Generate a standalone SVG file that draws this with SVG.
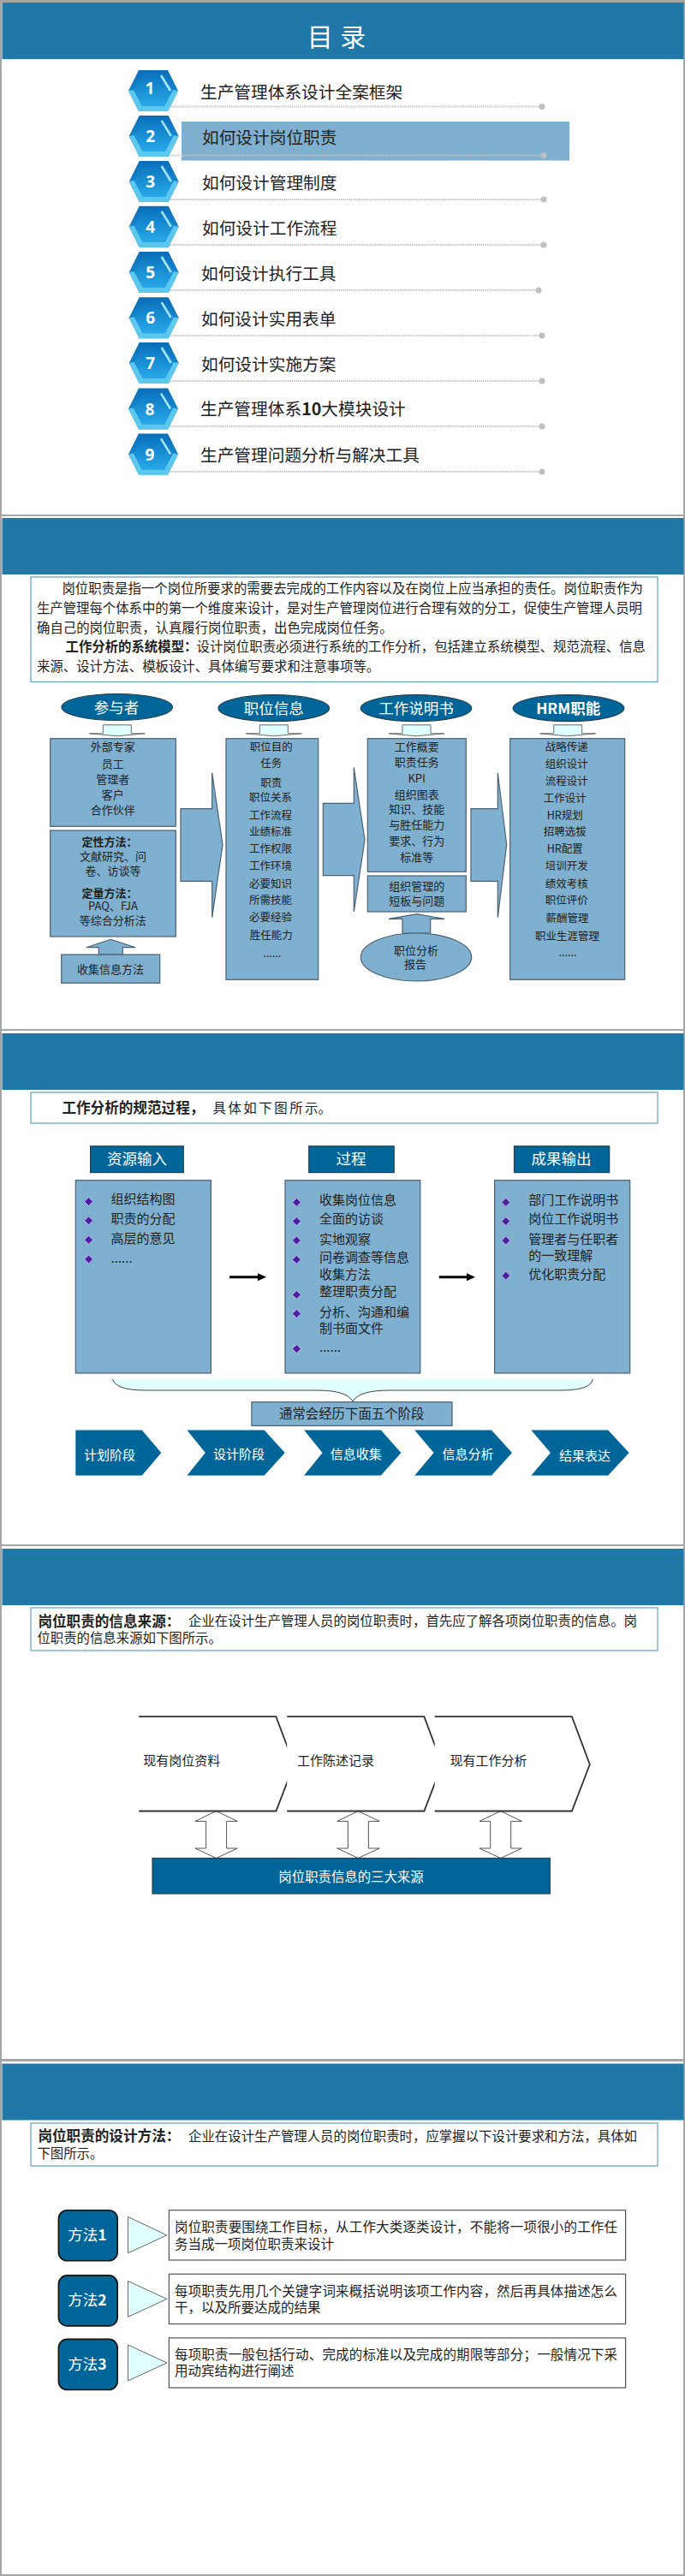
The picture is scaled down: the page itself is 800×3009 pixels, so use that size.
<svg xmlns="http://www.w3.org/2000/svg" width="800" height="3009" viewBox="0 0 800 3009">
<style>
text{font-family:"Noto Sans CJK SC","Noto Sans",sans-serif;fill:#222}
.c{text-anchor:middle}
.w{fill:#fff}
.b{font-weight:700}
.f125{font-size:12.5px}
.f13{font-size:13px}
.f15{font-size:15px}
.f154{font-size:15.4px}
.f155{font-size:15.5px}
.f166{font-size:16.6px}
.f172{font-size:17.5px}
.f197{font-size:19.7px}
.hd{fill:#1f78a8}
.pg{fill:#fff}
.note{fill:#fff;stroke:#5f9fc4;stroke-width:1.2}
.bx{fill:#7fb0cf;stroke:#4b6173;stroke-width:1.2}
.dk{fill:#006699;stroke:#23404f;stroke-width:1.2}
.cy{fill:#e0ffff;stroke:#6a6a6a;stroke-width:1}
.dot{fill:none;stroke:#c4c4c4;stroke-width:2;stroke-dasharray:1.3 1}
.end{fill:#bfbfbf}
.num{font-family:"Noto Sans",sans-serif;font-size:19px;font-weight:700;fill:#fff;text-anchor:middle}
</style>
<defs>
<linearGradient id="hg" x1="0" y1="0" x2="0" y2="1"><stop offset="0" stop-color="#0c6db8"/><stop offset="1" stop-color="#1e9bdf"/></linearGradient>
<linearGradient id="hi" x1="0" y1="0" x2="0" y2="1"><stop offset="0" stop-color="#0b75c0"/><stop offset="1" stop-color="#28a9e8"/></linearGradient>
<g id="hex">
<polygon points="-29,0 -17,-24 17,-24 29,0 17,24 -17,24" fill="url(#hg)"/>
<polygon points="-29,0 -23,-1 -13,18 13,18 23,-1 29,0 17,24 -17,24" fill="#5cc8ee"/>
<polygon points="-23,-1 -13,-19 13,-19 23,-1 13,18 -13,18" fill="url(#hi)"/>
<line x1="9" y1="-18" x2="20" y2="0" stroke="#a8e8f8" stroke-width="2.5"/>
</g>
<polygon id="dia" points="0,-5 5,0 0,5 -5,0" fill="#4b1fa0" stroke="#c3b4e6" stroke-width="1"/>
<polygon id="down" points="-16.5,-13 16.5,-13 16.5,-3 32.5,-3 0,0 -32.5,-3 -16.5,-3" class="cy"/>
<polygon id="dbl" points="0,0 24.7,11.9 12,11.9 12,43.5 24.7,43.5 0,55 -24.7,43.5 -12,43.5 -12,11.9 -24.7,11.9" fill="#fff" stroke="#555" stroke-width="1"/>
<marker id="ah" markerUnits="userSpaceOnUse" markerWidth="11" markerHeight="10" refX="1" refY="4.5" orient="auto"><path d="M0,0L10,4.5L0,9z" fill="#000"/></marker>
</defs>

<rect id="frame" x="0" y="0" width="800" height="3009" fill="#a6a6a6"/>
<g id="slides">
<rect class="pg" x="2" y="3" width="796" height="598"/>
<rect class="pg" x="2" y="603" width="796" height="599"/>
<rect class="pg" x="2" y="1204" width="796" height="600"/>
<rect class="pg" x="2" y="1806" width="796" height="599"/>
<rect class="pg" x="2" y="2408" width="796" height="599"/>
<rect class="hd" x="2.5" y="3" width="796" height="66"/>
<rect class="hd" x="2.5" y="605" width="796" height="66"/>
<rect class="hd" x="2.5" y="1207" width="796" height="66"/>
<rect class="hd" x="2.5" y="1809" width="796" height="66"/>
<rect class="hd" x="2.5" y="2410.5" width="796" height="66"/>
</g>
<text id="title" class="c w" x="393" y="54" font-size="30" word-spacing="2">目 录</text>
<rect id="highlight" x="212" y="142" width="453" height="45.5" fill="#7fb0cf"/>

<g id="connectors">
<line class="dot" x1="196" y1="124.4" x2="633" y2="124.4"/><circle class="end" cx="633" cy="124.4" r="3.5"/>
<line class="dot" x1="196" y1="181.4" x2="635" y2="181.4"/><circle class="end" cx="635" cy="181.4" r="3.5"/>
<line class="dot" x1="196" y1="233" x2="635" y2="233"/><circle class="end" cx="635" cy="233" r="3.5"/>
<line class="dot" x1="196" y1="286" x2="635" y2="286"/><circle class="end" cx="635" cy="286" r="3.5"/>
<line class="dot" x1="196" y1="339" x2="629" y2="339"/><circle class="end" cx="629" cy="339" r="3.5"/>
<line class="dot" x1="196" y1="392" x2="633" y2="392"/><circle class="end" cx="633" cy="392" r="3.5"/>
<line class="dot" x1="196" y1="445" x2="633" y2="445"/><circle class="end" cx="633" cy="445" r="3.5"/>
<line class="dot" x1="196" y1="498" x2="633" y2="498"/><circle class="end" cx="633" cy="498" r="3.5"/>
<line class="dot" x1="196" y1="551" x2="633" y2="551"/><circle class="end" cx="633" cy="551" r="3.5"/>
<use href="#down" x="136.8" y="859.8"/>
<use href="#down" x="319.8" y="859.8"/>
<use href="#down" x="486.5" y="859.8"/>
<use href="#down" x="663.2" y="859.8"/>
<polygon class="bx" points="129.3,1097.3 158.3,1106.7 143.3,1106.7 143.3,1115 115.3,1115 115.3,1106.7 100.7,1106.7"/>
<polygon class="bx" points="486.7,1067.7 519,1073.3 502.7,1073.3 502.7,1090 470,1090 470,1073.3 454,1073.3"/>
<polygon class="bx" points="211,944.7 247.7,944.7 247.7,902.7 260,986.7 247.7,1071.7 247.7,1029.3 211,1029.3"/>
<polygon class="bx" points="377.3,938.3 413.3,938.3 413.3,896.7 426,981 413.3,1065 413.3,1022.7 377.3,1022.7"/>
<polygon class="bx" points="550,944.7 581.3,944.7 581.3,902.7 591.7,986.7 581.3,1071.7 581.3,1029.3 550,1029.3"/>
<line x1="268" y1="1491.8" x2="302" y2="1491.8" stroke="#000" stroke-width="3" marker-end="url(#ah)"/>
<line x1="512.8" y1="1491.8" x2="546" y2="1491.8" stroke="#000" stroke-width="3" marker-end="url(#ah)"/>
<path d="M131.6,1611Q135,1624 170,1624L370,1624Q405,1624 412,1637Q419,1624 455,1624L655,1624Q690,1624 692.3,1611Z" fill="#e0ffff"/>
<path d="M131.6,1611Q135,1624 170,1624L370,1624Q405,1624 412,1637Q419,1624 455,1624L655,1624Q690,1624 692.3,1611" fill="none" stroke="#444" stroke-width="1"/>
<use href="#dbl" x="252.6" y="2115.5"/>
<use href="#dbl" x="418.4" y="2115.5"/>
<use href="#dbl" x="584.7" y="2115.5"/>
<polygon class="cy" points="149.5,2589.5 194.9,2610.9 149.5,2631.8"/>
<polygon class="cy" points="149.5,2664.5 194.9,2685.4 149.5,2706.4"/>
<polygon class="cy" points="149.5,2739 194.9,2760 149.5,2781"/>
</g>

<g id="toc-1"><use href="#hex" x="179" y="106"/><text class="num" x="175" y="110">1</text><text class="f197" x="234" y="115.3">生产管理体系设计全案框架</text></g>
<g id="toc-2"><use href="#hex" x="179.7" y="158.9"/><text class="num" x="175.7" y="166">2</text><text class="f197" x="236" y="168.3">如何设计岗位职责</text></g>
<g id="toc-3"><use href="#hex" x="179.7" y="212"/><text class="num" x="175.7" y="219">3</text><text class="f197" x="236" y="221.3">如何设计管理制度</text></g>
<g id="toc-4"><use href="#hex" x="179.7" y="264.8"/><text class="num" x="175.7" y="272">4</text><text class="f197" x="236" y="274.3">如何设计工作流程</text></g>
<g id="toc-5"><use href="#hex" x="179.7" y="318"/><text class="num" x="175.7" y="325">5</text><text class="f197" x="235" y="327.3">如何设计执行工具</text></g>
<g id="toc-6"><use href="#hex" x="179.7" y="371.2"/><text class="num" x="175.7" y="378">6</text><text class="f197" x="235" y="380.3">如何设计实用表单</text></g>
<g id="toc-7"><use href="#hex" x="179.7" y="424"/><text class="num" x="175.7" y="431">7</text><text class="f197" x="235" y="433.3">如何设计实施方案</text></g>
<g id="toc-8"><use href="#hex" x="179" y="477.6"/><text class="num" x="175" y="484.5">8</text><text class="f197" x="234" y="485.3">生产管理体系<tspan class="b">10</tspan>大模块设计</text></g>
<g id="toc-9"><use href="#hex" x="179" y="530.4"/><text class="num" x="175" y="537.5">9</text><text class="f197" x="234" y="539.3">生产管理问题分析与解决工具</text></g>

<g id="s2-note">
<rect class="note" x="36" y="674" width="732" height="122.5"/>
<text class="f154" x="72.4" y="692.7" textLength="678.6">岗位职责是指一个岗位所要求的需要去完成的工作内容以及在岗位上应当承担的责任。岗位职责作为</text>
<text class="f154" x="43" y="715.7" textLength="707">生产管理每个体系中的第一个维度来设计，是对生产管理岗位进行合理有效的分工，促使生产管理人员明</text>
<text class="f154" x="43" y="739.3">确自己的岗位职责，认真履行岗位职责，出色完成岗位任务。</text>
<text class="f154 b" x="76.5" y="760.7">工作分析的系统模型：</text>
<text class="f154" x="229.5" y="760.7" textLength="524.5">设计岗位职责必须进行系统的工作分析，包括建立系统模型、规范流程、信息</text>
<text class="f154" x="43" y="784.4">来源、设计方法、模板设计、具体编写要求和注意事项等。</text>
</g>
<g id="col-participants">
<ellipse class="dk" cx="136.7" cy="826" rx="64.7" ry="15.5"/>
<text class="c w f172" x="136" y="832.5">参与者</text>
<rect class="bx" x="58.7" y="862.7" width="146.6" height="102.6"/>
<text class="c f13" x="131.7" y="876.5">外部专家</text>
<text class="c f13" x="131.7" y="896.5">员工</text>
<text class="c f13" x="131.7" y="915">管理者</text>
<text class="c f13" x="131.7" y="933">客户</text>
<text class="c f13" x="131.7" y="951">合作伙伴</text>
<rect class="bx" x="58.7" y="970" width="146.6" height="124"/>
<text class="c f13 b" x="128" y="988">定性方法：</text>
<text class="c f13" x="132" y="1005">文献研究、问</text>
<text class="c f13" x="132" y="1021.5">卷、访谈等</text>
<text class="c f13 b" x="128" y="1048">定量方法：</text>
<text class="c f13" x="132" y="1063">PAQ、FJA</text>
<text class="c f13" x="131.7" y="1080">等综合分析法</text>
</g>
<g id="collect-method">
<rect class="bx" x="71.7" y="1115" width="115" height="33.3"/>
<text class="c f13" x="129" y="1136.5">收集信息方法</text>
</g>
<g id="col-position">
<ellipse class="dk" cx="319.8" cy="827.2" rx="64.8" ry="15.5"/>
<text class="c w f172" x="319.7" y="833.7">职位信息</text>
<rect class="bx" x="264" y="862.7" width="107.7" height="281.6"/>
<text class="c f125" x="316.7" y="877">职位目的</text>
<text class="c f125" x="316.7" y="896.3">任务</text>
<text class="c f125" x="316.7" y="918.6">职责</text>
<text class="c f125" x="316" y="936.3">职位关系</text>
<text class="c f125" x="316" y="957">工作流程</text>
<text class="c f125" x="316" y="976.3">业绩标准</text>
<text class="c f125" x="316" y="996.3">工作权限</text>
<text class="c f125" x="316" y="1016.3">工作环境</text>
<text class="c f125" x="316" y="1037">必要知识</text>
<text class="c f125" x="316" y="1056.3">所需技能</text>
<text class="c f125" x="316" y="1076.3">必要经验</text>
<text class="c f125" x="316.7" y="1097">胜任能力</text>
<text class="c f125" x="317.7" y="1118">......</text>
</g>
<g id="col-jd">
<ellipse class="dk" cx="486" cy="827.2" rx="64.7" ry="15.5"/>
<text class="c w f172" x="486" y="833.7">工作说明书</text>
<rect class="bx" x="429.3" y="862.7" width="115" height="155.6"/>
<text class="c f13" x="486.7" y="876.5">工作概要</text>
<text class="c f13" x="486.7" y="895">职责任务</text>
<text class="c f13" x="486.7" y="914">KPI</text>
<text class="c f13" x="486.7" y="933">组织图表</text>
<text class="c f13" x="486.7" y="950">知识、技能</text>
<text class="c f13" x="486.7" y="968">与胜任能力</text>
<text class="c f13" x="486.7" y="986.5">要求、行为</text>
<text class="c f13" x="486.7" y="1005.5">标准等</text>
<rect class="bx" x="429.3" y="1023" width="115" height="42"/>
<text class="c f13" x="486.7" y="1040">组织管理的</text>
<text class="c f13" x="486.7" y="1056.5">短板与问题</text>
</g>
<g id="report">
<ellipse class="bx" cx="486" cy="1118" rx="64.7" ry="28"/>
<text class="c f13" x="486" y="1115">职位分析</text>
<text class="c f13" x="485" y="1131">报告</text>
</g>
<g id="col-hrm">
<ellipse class="dk" cx="664" cy="827.2" rx="64.8" ry="15.5"/>
<text class="c w f172 b" x="663.7" y="833.7">HRM职能</text>
<rect class="bx" x="595.7" y="862.7" width="134" height="281.6"/>
<text class="c f125" x="661.7" y="877">战略传递</text>
<text class="c f125" x="661.7" y="897">组织设计</text>
<text class="c f125" x="661.7" y="917">流程设计</text>
<text class="c f125" x="659.7" y="937">工作设计</text>
<text class="c f125" x="659.7" y="957">HR规划</text>
<text class="c f125" x="659.7" y="976.3">招聘选拔</text>
<text class="c f125" x="659.7" y="996.3">HR配置</text>
<text class="c f125" x="661.7" y="1016.3">培训开发</text>
<text class="c f125" x="661.7" y="1037">绩效考核</text>
<text class="c f125" x="661.7" y="1056.3">职位评价</text>
<text class="c f125" x="662.5" y="1077">薪酬管理</text>
<text class="c f125" x="662.5" y="1098">职业生涯管理</text>
<text class="c f125" x="663" y="1116.6">......</text>
</g>

<g id="s3-note">
<rect class="note" x="36" y="1276" width="732" height="36"/>
<text class="f166 b" x="72.4" y="1299.8">工作分析的规范过程，</text>
<text class="f154" x="248.5" y="1299.5" textLength="123">具体如下图所示</text><text class="f154" x="371.5" y="1299.5">。</text>
</g>
<g id="input">
<rect class="dk" x="105.6" y="1338.8" width="108.7" height="30.8"/>
<text class="c w f172" x="160" y="1360.4">资源输入</text>
<rect class="bx" x="88.3" y="1378.7" width="158.1" height="225.3"/>
<use href="#dia" x="103.6" y="1403.6"/><use href="#dia" x="103.6" y="1425.8"/><use href="#dia" x="103.6" y="1448.3"/><use href="#dia" x="103.6" y="1470.9"/>
<text class="f15" x="129.6" y="1406.4">组织结构图</text>
<text class="f15" x="129.6" y="1428.9">职责的分配</text>
<text class="f15" x="129.6" y="1451.8">高层的意见</text>
<text class="f15" x="129.6" y="1474.5">......</text>
</g>
<g id="process">
<rect class="dk" x="360.7" y="1338.8" width="99.5" height="30.8"/>
<text class="c w f172" x="410" y="1360.4">过程</text>
<rect class="bx" x="333" y="1378.7" width="157.8" height="225.3"/>
<use href="#dia" x="346.4" y="1404.4"/><use href="#dia" x="346.4" y="1426.6"/><use href="#dia" x="346.4" y="1449"/><use href="#dia" x="346.4" y="1471.3"/><use href="#dia" x="346.4" y="1512.4"/><use href="#dia" x="346.4" y="1534.5"/><use href="#dia" x="346.4" y="1575.6"/>
<text class="f15" x="373" y="1407.2">收集岗位信息</text>
<text class="f15" x="373" y="1429.3">全面的访谈</text>
<text class="f15" x="373" y="1452.5">实地观察</text>
<text class="f15" x="373" y="1474.4">问卷调查等信息</text>
<text class="f15" x="373" y="1493.8">收集方法</text>
<text class="f15" x="373" y="1514.3">整理职责分配</text>
<text class="f15" x="373" y="1538">分析、沟通和编</text>
<text class="f15" x="373" y="1557">制书面文件</text>
<text class="f15" x="373" y="1579">......</text>
</g>
<g id="output">
<rect class="dk" x="600.5" y="1338.8" width="111.2" height="30.8"/>
<text class="c w f172" x="655.6" y="1360.4">成果输出</text>
<rect class="bx" x="577.6" y="1378.7" width="158.1" height="225.3"/>
<use href="#dia" x="590.8" y="1404.4"/><use href="#dia" x="590.8" y="1426.6"/><use href="#dia" x="590.8" y="1449"/><use href="#dia" x="590.8" y="1490.2"/>
<text class="f15" x="617.3" y="1407.2">部门工作说明书</text>
<text class="f15" x="617.3" y="1429.3">岗位工作说明书</text>
<text class="f15" x="617.3" y="1452.5">管理者与任职者</text>
<text class="f15" x="617.3" y="1471.5">的一致理解</text>
<text class="f15" x="617.3" y="1494.1">优化职责分配</text>
</g>
<g id="five-stages">
<rect class="bx" x="293.9" y="1637.7" width="234.1" height="27.7"/>
<text class="c f154" x="410.7" y="1656.7">通常会经历下面五个阶段</text>
</g>
<g id="stage-1">
<polygon points="88.3,1670.5 165.8,1670.5 188.3,1697 165.8,1723.5 88.3,1723.5" fill="#006699"/>
<text class="c w f15" x="128" y="1705.3">计划阶段</text>
</g>
<g id="stage-2">
<polygon points="218.4,1670.5 308.7,1670.5 332.7,1697 308.7,1723.5 218.4,1723.5 239.8,1697" fill="#006699"/>
<text class="c w f15" x="279" y="1704.1">设计阶段</text>
</g>
<g id="stage-3">
<polygon points="355.1,1670.5 444.9,1670.5 468.4,1697 444.9,1723.5 355.1,1723.5 376.5,1697" fill="#006699"/>
<text class="c w f15" x="415.8" y="1704.1">信息收集</text>
</g>
<g id="stage-4">
<polygon points="484.2,1670.5 574,1670.5 598,1697 574,1723.5 484.2,1723.5 506.6,1697" fill="#006699"/>
<text class="c w f15" x="546.4" y="1704.1">信息分析</text>
</g>
<g id="stage-5">
<polygon points="620.4,1670.5 710.2,1670.5 734.7,1697 710.2,1723.5 620.4,1723.5 642.9,1697" fill="#006699"/>
<text class="c w f15" x="683" y="1705.5">结果表达</text>
</g>

<g id="s4-note">
<rect class="note" x="36" y="1878" width="732" height="50"/>
<text class="f166 b" x="44.4" y="1899.8">岗位职责的信息来源：</text>
<text class="f154" x="220" y="1899.4" textLength="524">企业在设计生产管理人员的岗位职责时，首先应了解各项岗位职责的信息。岗</text>
<text class="f154" x="43.4" y="1919.2">位职责的信息来源如下图所示。</text>
</g>
<g id="src-1">
<path d="M162.2,2005.2H322.4L343.4,2061L322.4,2115.5H162.2" fill="#fff" stroke="#333" stroke-width="1.8"/>
<text class="f15" x="167.3" y="2061.7">现有岗位资料</text>
</g>
<g id="src-2">
<path d="M335.2,2005.2H495.4L516.3,2061L495.4,2115.5H335.2" fill="#fff" stroke="#333" stroke-width="1.8"/>
<text class="f15" x="347" y="2061.7">工作陈述记录</text>
</g>
<g id="src-3">
<path d="M507.7,2005.2H667.9L688.8,2061L667.9,2115.5H507.7" fill="#fff" stroke="#333" stroke-width="1.8"/>
<text class="f15" x="525.5" y="2061.7">现有工作分析</text>
</g>
<g id="src-base">
<rect class="dk" x="178" y="2170.5" width="464.3" height="41.5"/>
<text class="c w f154" x="410" y="2197.6">岗位职责信息的三大来源</text>
</g>

<g id="s5-note">
<rect class="note" x="36" y="2480" width="732" height="50"/>
<text class="f166 b" x="44.4" y="2501.1">岗位职责的设计方法：</text>
<text class="f154" x="220" y="2500.7" textLength="524">企业在设计生产管理人员的岗位职责时，应掌握以下设计要求和方法，具体如</text>
<text class="f154" x="43.4" y="2521">下图所示。</text>
</g>
<g id="method-1">
<rect x="68.4" y="2581.7" width="68.8" height="59.1" rx="10" fill="#006699" stroke="#111" stroke-width="1.6"/>
<text class="c w f172" x="102" y="2617.4">方法<tspan class="b">1</tspan></text>
<rect x="197.4" y="2581.7" width="533.2" height="58.3" fill="#fff" stroke="#555" stroke-width="1.2"/>
<text class="f155" x="204" y="2607.3" textLength="517">岗位职责要围绕工作目标，从工作大类逐类设计，不能将一项很小的工作任</text>
<text class="f155" x="204" y="2626.7">务当成一项岗位职责来设计</text>
</g>
<g id="method-2">
<rect x="68.4" y="2657.9" width="68.8" height="59" rx="10" fill="#006699" stroke="#111" stroke-width="1.6"/>
<text class="c w f172" x="102" y="2693.1">方法<tspan class="b">2</tspan></text>
<rect x="197.4" y="2656.3" width="533.2" height="58.3" fill="#fff" stroke="#555" stroke-width="1.2"/>
<text class="f155" x="204" y="2681.7" textLength="517">每项职责先用几个关键字词来概括说明该项工作内容，然后再具体描述怎么</text>
<text class="f155" x="204" y="2701.2">干，以及所要达成的结果</text>
</g>
<g id="method-3">
<rect x="68.4" y="2732.4" width="68.8" height="59.1" rx="10" fill="#006699" stroke="#111" stroke-width="1.6"/>
<text class="c w f172" x="102" y="2767.7">方法<tspan class="b">3</tspan></text>
<rect x="197.4" y="2730.9" width="533.2" height="58.2" fill="#fff" stroke="#555" stroke-width="1.2"/>
<text class="f155" x="204" y="2756.4" textLength="517">每项职责一般包括行动、完成的标准以及完成的期限等部分；一般情况下采</text>
<text class="f155" x="204" y="2775.4">用动宾结构进行阐述</text>
</g>
</svg>
